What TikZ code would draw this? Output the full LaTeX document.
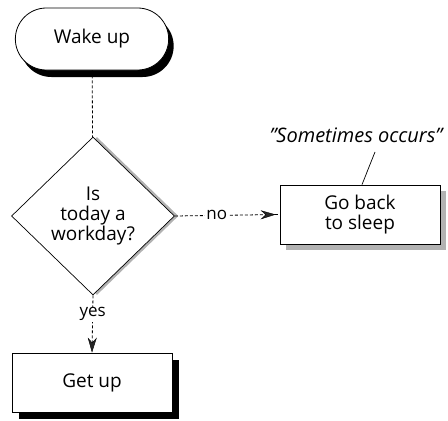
\documentclass[tikz,border=0pt]{standalone}
\usepackage{fontspec}
\setmainfont{Open Sans}
\usetikzlibrary{arrows.meta,shapes.geometric,shapes.misc,shadows}
\begin{document}
\begin{tikzpicture}[x=1pt,y=-1pt,
  every node/.style={font=\fontsize{19}{20}\selectfont, align=center},
  pill/.style={draw, fill=white, line width=0.8pt, rounded rectangle,
    minimum width=160pt, minimum height=62pt,
    drop shadow={shadow xshift=5pt, shadow yshift=-7pt, fill=black, opacity=1}},
  decision/.style={draw, fill=white, line width=0.7pt, diamond, inner sep=0pt,
    minimum width=163pt, minimum height=158pt,
    drop shadow={shadow xshift=4pt, shadow yshift=0pt, fill=black!30, opacity=1}},
  procgray/.style={draw, fill=white, line width=0.8pt, rectangle,
    minimum width=160pt, minimum height=59pt,
    drop shadow={shadow xshift=6pt, shadow yshift=-6pt, fill=black!30, opacity=1}},
  procblack/.style={draw, fill=white, line width=0.8pt, rectangle,
    minimum width=160pt, minimum height=59pt,
    drop shadow={shadow xshift=7pt, shadow yshift=-7pt, fill=black, opacity=1}},
  flow/.style={line width=0.8pt, dash pattern=on 3pt off 2pt},
  tip/.style={-{Stealth[length=15pt,width=9pt,inset=5pt,line width=0.4pt,fill=black!85]}},
  edgelabel/.style={fill=white, inner sep=1pt, font=\fontsize{17}{18}\selectfont}
]
\useasboundingbox (0,0) rectangle (448,421);

\node[pill] (wake) at (92,39) {Wake up};
\node[decision] (ask) at (93,216) {Is\\today a\\workday?};
\node[procgray] (sleep) at (360,214.5) {Go back\\to sleep};
\node[procblack] (getup) at (92,382.5) {Get up};
\node[font=\itshape\fontsize{20}{22}\selectfont] (note) at (356,135) {"Sometimes occurs"};

\draw[flow] (wake) -- (ask);
\draw[flow, tip, shorten >=4pt] (ask.east) -- node[edgelabel, pos=0.4] {no} (sleep.west);
\draw[flow] ([xshift=-5pt]sleep.west) -- (sleep.west);
\draw[flow, tip] (ask.south) -- node[edgelabel, pos=0.33] {yes} (getup.north);
\draw[line width=0.7pt] ([xshift=19pt,yshift=-6pt]note.south) -- ([xshift=2pt]sleep.north);
\end{tikzpicture}
\end{document}
